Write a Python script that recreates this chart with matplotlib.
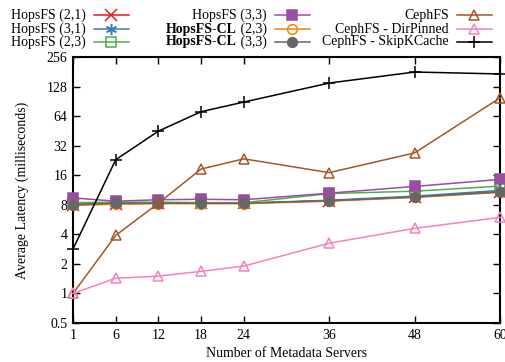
import matplotlib
matplotlib.use("Agg")
import matplotlib.pyplot as plt
from matplotlib.lines import Line2D
from matplotlib.ticker import FixedLocator, FixedFormatter, NullLocator

plt.rcParams["font.family"] = ["Liberation Serif", "DejaVu Serif"]
plt.rcParams["font.size"] = 9

# data
servers = [1, 6, 12, 18, 24, 36, 48, 60]
hops_21 = [8.0, 8.2, 8.3, 8.3, 8.3, 8.8, 9.6, 10.9]
hops_31 = [8.1, 8.3, 8.3, 8.3, 8.3, 8.9, 9.8, 11.2]
hops_23 = [8.4, 8.5, 8.5, 8.4, 8.4, 10.4, 11.0, 12.4]
hops_33 = [9.4, 8.7, 9.0, 9.1, 9.0, 10.5, 12.3, 14.5]
hopscl_23 = [7.9, 8.1, 8.2, 8.2, 8.2, 8.7, 9.5, 10.7]
hopscl_33 = [8.0, 8.3, 8.3, 8.3, 8.3, 8.8, 9.6, 10.8]
ceph = [1.0, 3.9, 8.3, 18.5, 23.5, 17.0, 27.0, 98.0]
ceph_pinned = [1.0, 1.43, 1.5, 1.68, 1.9, 3.25, 4.6, 5.95]
ceph_skip = [2.83, 23.0, 45.0, 71.0, 89.0, 139.0, 180.0, 172.0]
y_ticks = [0.5, 1, 2, 4, 8, 16, 32, 64, 128, 256]

# the first point (1 server) sits where 0 would be on the axis
x_pos = [0 if s == 1 else s for s in servers]

# (bold part, normal part, values, color, marker, filled)
series = [
    ("", "HopsFS (2,1)", hops_21, "#e41a1c", "x", False),
    ("", "HopsFS (3,1)", hops_31, "#377eb8", (6, 2, 0), False),
    ("", "HopsFS (2,3)", hops_23, "#4daf4a", "s", False),
    ("", "HopsFS (3,3)", hops_33, "#984ea3", "s", True),
    ("HopsFS-CL", " (2,3)", hopscl_23, "#ff7f00", "o", False),
    ("HopsFS-CL", " (3,3)", hopscl_33, "#666666", "o", True),
    ("", "CephFS", ceph, "#a65628", "^", False),
    ("", "CephFS - DirPinned", ceph_pinned, "#f781bf", "^", False),
    ("", "CephFS - SkipKCache", ceph_skip, "#000000", "+", False),
]

fig = plt.figure(figsize=(5.06, 3.62), dpi=100)
ax = fig.add_axes([73 / 506, 1 - 323 / 362, 427 / 506, 266 / 362])


def style(color, marker, filled):
    kw = dict(color=color, marker=marker, linewidth=1.1, markersize=7,
              markeredgewidth=1.1, markeredgecolor=color)
    kw["markerfacecolor"] = color if filled else "none"
    if marker in ("x", "+", (6, 2, 0)):
        kw["markersize"] = 8
    return kw


for bold, normal, vals, color, marker, filled in series:
    ax.plot(x_pos, vals, clip_on=False, zorder=3, **style(color, marker, filled))

ax.set_yscale("log", base=2)
ax.set_ylim(0.5, 256)
ax.set_xlim(0, 60)
ax.yaxis.set_major_locator(FixedLocator(y_ticks))
ax.yaxis.set_major_formatter(FixedFormatter([f"{t:g}" for t in y_ticks]))
ax.yaxis.set_minor_locator(NullLocator())
ax.set_xticks(x_pos)
ax.set_xticklabels([str(s) for s in servers])
ax.tick_params(direction="in", top=True, right=True, length=5, width=1,
               labelsize=10, pad=4)
for sp in ax.spines.values():
    sp.set_linewidth(1.5)
ax.set_xlabel("Number of Metadata Servers", fontsize=10, labelpad=4)
ax.set_ylabel("Average Latency (milliseconds)", fontsize=10, labelpad=13)

# gnuplot style legend: right aligned text, sample line to the right
renderer = fig.canvas.get_renderer()
col_x = [86, 267, 449]
row_y = [15, 29, 42]
for i, (bold, normal, vals, color, marker, filled) in enumerate(series):
    cx = col_x[i // 3]
    ry = row_y[i % 3]
    xf = cx / 506
    yf = 1 - ry / 362
    t = fig.text(xf, yf, normal, ha="right", va="center", fontsize=10)
    if bold:
        w = t.get_window_extent(renderer).width / 506
        fig.text(xf - w, yf, bold, ha="right", va="center", fontsize=10,
                 fontweight="bold")
    kw = style(color, marker, filled)
    fig.add_artist(Line2D([(cx + 8) / 506, (cx + 43) / 506], [yf, yf],
                          transform=fig.transFigure, color=color,
                          linewidth=kw["linewidth"]))
    kw.pop("linewidth")
    fig.add_artist(Line2D([(cx + 25.5) / 506], [yf], transform=fig.transFigure,
                          linestyle="none", **kw))

fig.savefig("out.png", dpi=100)
